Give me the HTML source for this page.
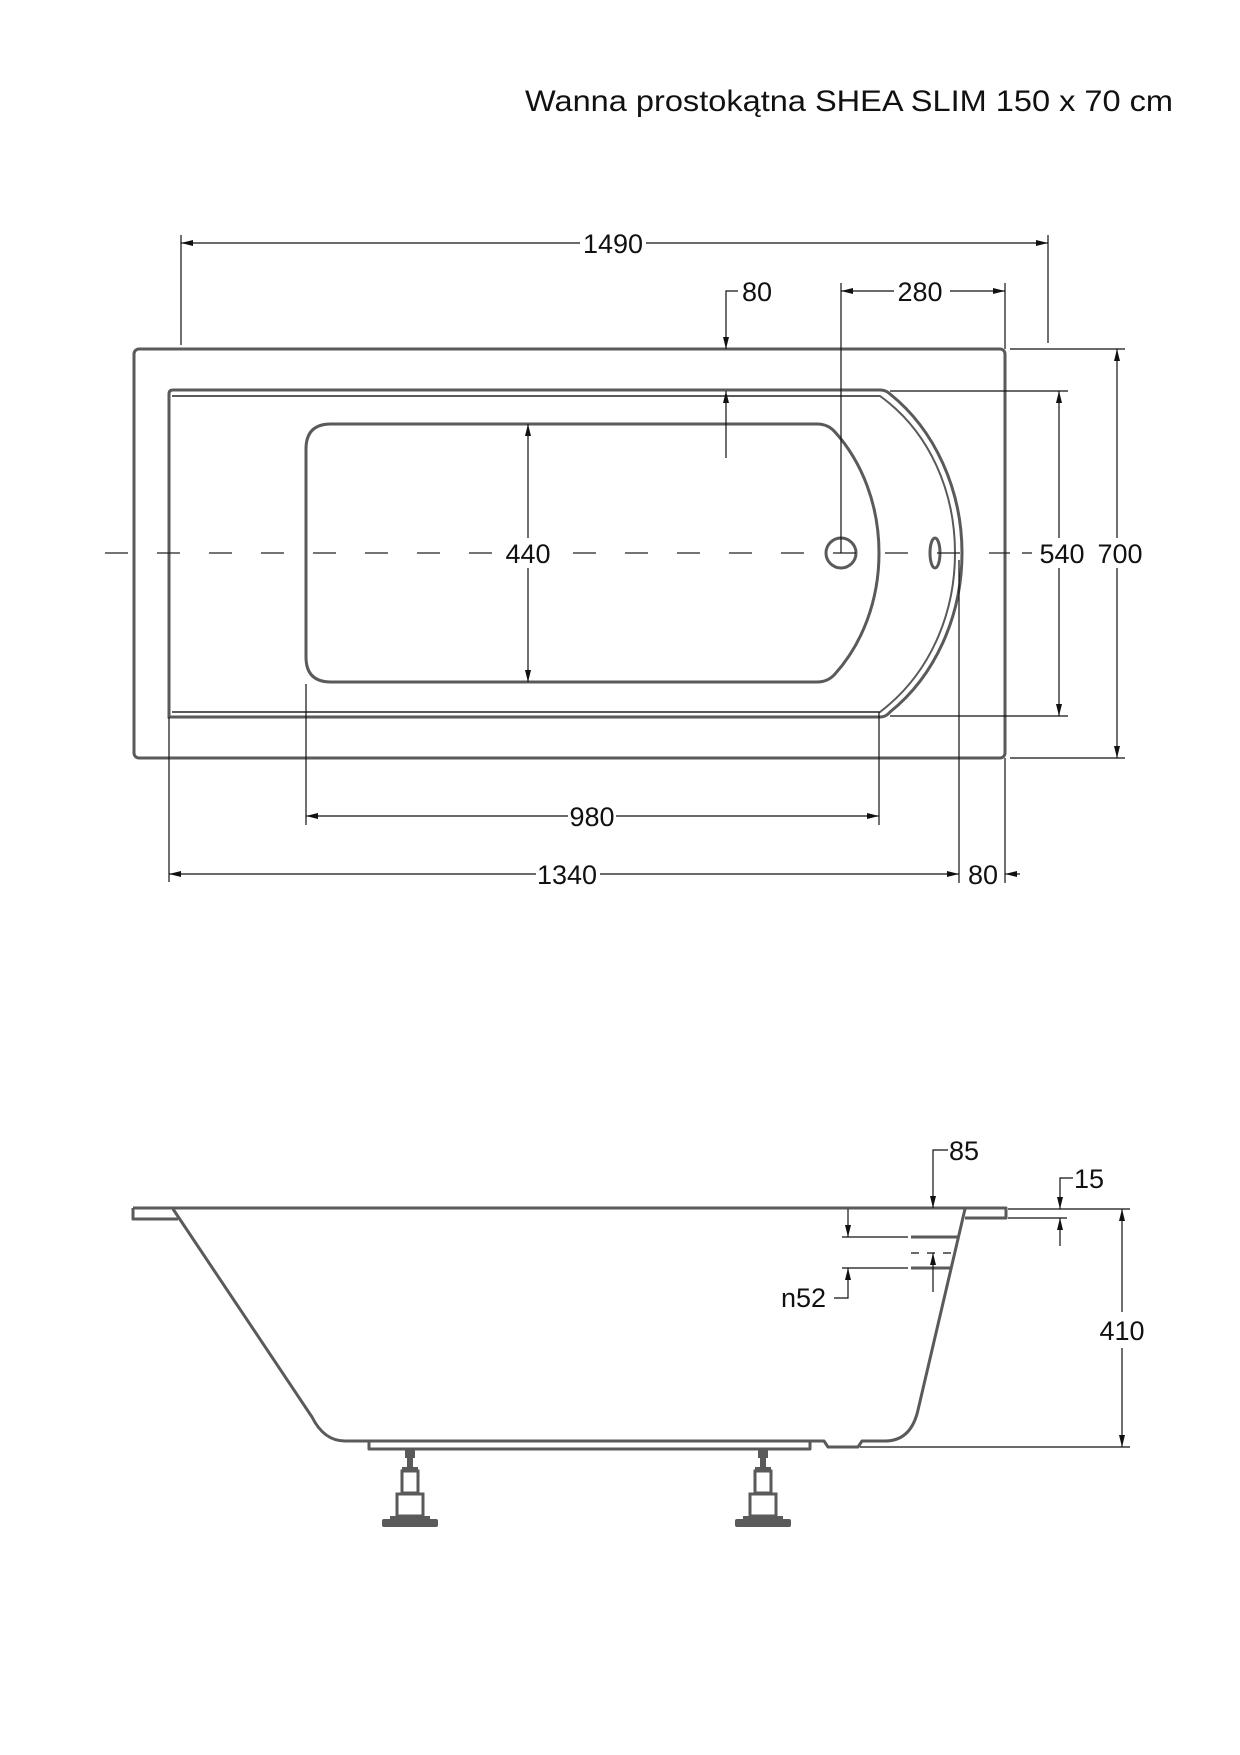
<!DOCTYPE html>
<html><head><meta charset="utf-8"><style>
html,body{margin:0;padding:0;background:#fff}
svg{display:block}
text{font-family:"Liberation Sans",sans-serif;fill:#111}
</style></head><body>
<svg width="1240" height="1755" viewBox="0 0 1240 1755" xmlns="http://www.w3.org/2000/svg">
<defs>
<marker id="a" viewBox="0 0 12 6" refX="12" refY="3" markerWidth="12" markerHeight="6" orient="auto-start-reverse" markerUnits="userSpaceOnUse"><path d="M0,0 L12,3 L0,6 Z" fill="#111"/></marker>
</defs>
<text x="525" y="111" font-size="30" textLength="648" lengthAdjust="spacingAndGlyphs">Wanna prostokątna SHEA SLIM 150 x 70 cm</text>

<g fill="none" stroke="#5a5a5a" stroke-width="3">
<rect x="134" y="349" width="871" height="409" rx="5"/>
<path d="M169,717 L169,394 Q169,390 173,390 L880,390 Q886,390 890,394 C935,430 962,490 962,553 C962,616 935,676 890,712 Q886,717 880,717 Z"/>
<path d="M172,396 L880,396 C930,432 955,492 955,553 C955,614 930,674 880,712 L172,712" stroke-width="2"/>
<path d="M331,424 L817,424 Q828,424 835,432 C862,462 879,505 879,553 C879,601 862,644 835,674 Q828,682 817,682 L331,682 Q306,682 306,657 L306,449 Q306,424 331,424 Z"/>
<circle cx="841" cy="553" r="15"/>
<ellipse cx="935" cy="553" rx="5" ry="15"/>
</g>
<line x1="105" y1="553" x2="1010" y2="553" stroke="#222" stroke-width="1.2" stroke-dasharray="23,29"/>
<rect x="502" y="538" width="52" height="30" fill="#fff"/>
<rect x="1036" y="538" width="100" height="30" fill="#fff"/>

<g stroke="#111" stroke-width="1.2" fill="none">
<line x1="181" y1="235" x2="181" y2="345"/><line x1="1048" y1="235" x2="1048" y2="343"/>
<line x1="181" y1="243" x2="580" y2="243" marker-start="url(#a)"/><line x1="646" y1="243" x2="1048" y2="243" marker-end="url(#a)"/>
<line x1="841" y1="283" x2="841" y2="553"/><line x1="1005" y1="283" x2="1005" y2="349"/>
<line x1="841" y1="291" x2="894" y2="291" marker-start="url(#a)"/><line x1="950" y1="291" x2="1005" y2="291" marker-end="url(#a)"/>
<polyline points="738,291 726,291 726,349" marker-end="url(#a)"/>
<line x1="726" y1="458" x2="726" y2="391" marker-end="url(#a)"/>
<line x1="890" y1="391" x2="1068" y2="391"/><line x1="890" y1="716" x2="1068" y2="716"/>
<line x1="1059" y1="391" x2="1059" y2="538" marker-start="url(#a)"/><line x1="1059" y1="568" x2="1059" y2="716" marker-end="url(#a)"/>
<line x1="1022" y1="553" x2="1032" y2="553"/>
<line x1="1010" y1="349" x2="1125" y2="349"/><line x1="1010" y1="758" x2="1125" y2="758"/>
<line x1="1117" y1="349" x2="1117" y2="538" marker-start="url(#a)"/><line x1="1117" y1="568" x2="1117" y2="758" marker-end="url(#a)"/>
<line x1="528" y1="424" x2="528" y2="538" marker-start="url(#a)"/><line x1="528" y1="568" x2="528" y2="682" marker-end="url(#a)"/>
<line x1="306" y1="684" x2="306" y2="825"/><line x1="879" y1="712" x2="879" y2="825"/>
<line x1="306" y1="816" x2="568" y2="816" marker-start="url(#a)"/><line x1="616" y1="816" x2="879" y2="816" marker-end="url(#a)"/>
<line x1="169" y1="717" x2="169" y2="882"/><line x1="959" y1="560" x2="959" y2="883"/><line x1="1005" y1="758" x2="1005" y2="883"/>
<line x1="169" y1="874" x2="536" y2="874" marker-start="url(#a)"/><line x1="600" y1="874" x2="959" y2="874" marker-end="url(#a)"/>
<line x1="1020" y1="874" x2="1005" y2="874" marker-end="url(#a)"/>
</g>
<g font-size="27" text-anchor="middle">
<text x="613" y="253">1490</text>
<text x="920" y="301">280</text>
<text x="757" y="301">80</text>
<text x="1062" y="563">540</text>
<text x="1120" y="563">700</text>
<text x="528" y="563">440</text>
<text x="592" y="826">980</text>
<text x="567" y="884">1340</text>
<text x="983" y="884">80</text>
</g>

<g fill="none" stroke="#5a5a5a" stroke-width="3" stroke-linejoin="round">
<path d="M133,1208 L1006,1208 L1006,1218 L965,1218"/>
<path d="M133,1208 L133,1219 L178,1219"/>
<path d="M173,1209 L312,1417 Q324,1441 345,1441 L700,1441"/>
<path d="M965,1209 L918,1410 Q911,1441 885,1441 L862,1441 L858,1447 L828,1447 L824,1441 L700,1441"/>
<rect x="369" y="1441" width="441" height="8"/>
<path d="M911,1237 L958,1237 M911,1268 L951,1268"/>
</g>
<g fill="#5a5a5a">
<g transform="translate(410,0)">
<rect x="-5" y="1449" width="10" height="9"/><rect x="-3" y="1458" width="6" height="9"/>
<rect x="-8" y="1467" width="16" height="4"/><rect x="-8" y="1471" width="16" height="22" fill="none" stroke="#5a5a5a" stroke-width="3"/>
<rect x="-13" y="1494" width="26" height="22" fill="none" stroke="#5a5a5a" stroke-width="3"/>
<rect x="-20" y="1516" width="40" height="4"/><rect x="-28" y="1519" width="56" height="8" rx="2"/>
</g>
<g transform="translate(763,0)">
<rect x="-5" y="1449" width="10" height="9"/><rect x="-3" y="1458" width="6" height="9"/>
<rect x="-8" y="1467" width="16" height="4"/><rect x="-8" y="1471" width="16" height="22" fill="none" stroke="#5a5a5a" stroke-width="3"/>
<rect x="-13" y="1494" width="26" height="22" fill="none" stroke="#5a5a5a" stroke-width="3"/>
<rect x="-20" y="1516" width="40" height="4"/><rect x="-28" y="1519" width="56" height="8" rx="2"/>
</g>
</g>
<g stroke="#111" stroke-width="1.2" fill="none">
<polyline points="948,1150 933,1150 933,1208" marker-end="url(#a)"/>
<polyline points="1073,1178 1060,1178 1060,1209" marker-end="url(#a)"/>
<line x1="1060" y1="1246" x2="1060" y2="1218" marker-end="url(#a)"/>
<line x1="1008" y1="1209" x2="1130" y2="1209"/><line x1="1008" y1="1218" x2="1067" y2="1218"/>
<line x1="860" y1="1447" x2="1130" y2="1447"/>
<line x1="1122" y1="1209" x2="1122" y2="1312" marker-start="url(#a)"/><line x1="1122" y1="1348" x2="1122" y2="1447" marker-end="url(#a)"/>
<line x1="848" y1="1209" x2="848" y2="1237" marker-end="url(#a)"/>
<polyline points="834,1298 848,1298 848,1268" marker-end="url(#a)"/>
<line x1="842" y1="1237" x2="908" y2="1237"/><line x1="842" y1="1268" x2="908" y2="1268"/>
<line x1="911" y1="1253" x2="955" y2="1253" stroke-dasharray="8,8"/>
<line x1="933" y1="1292" x2="933" y2="1253" marker-end="url(#a)"/>
</g>
<g font-size="27">
<text x="949" y="1160">85</text>
<text x="1074" y="1188">15</text>
<text x="781" y="1307">n52</text>
<text x="1122" y="1340" text-anchor="middle">410</text>
</g>
</svg>
</body></html>
